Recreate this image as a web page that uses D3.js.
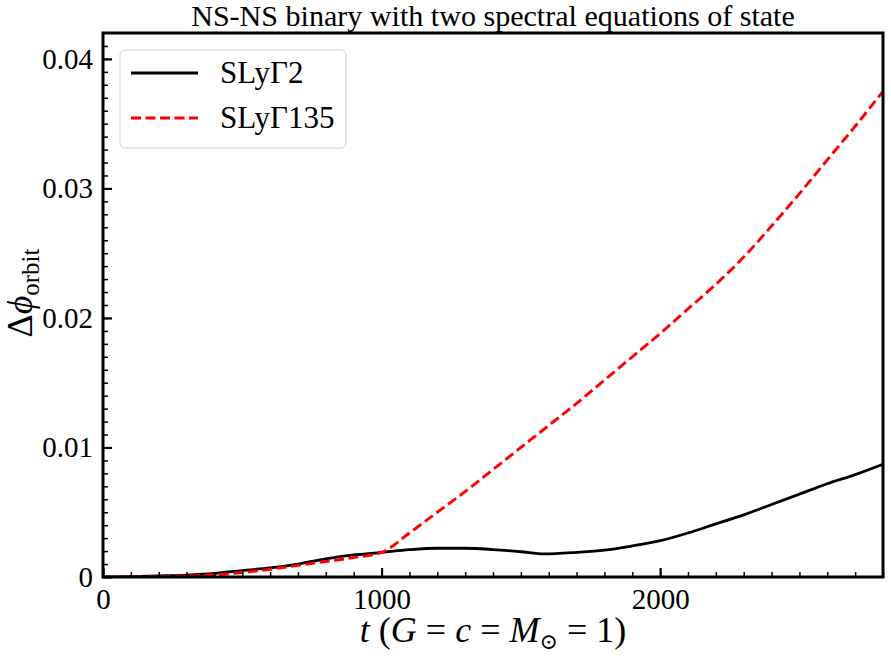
<!DOCTYPE html>
<html><head><meta charset="utf-8">
<script src="https://cdn.jsdelivr.net/npm/d3@7"></script>
<style>body{margin:0;background:#fff}svg{display:block} svg text{font-family:"Liberation Serif","DejaVu Serif",serif;}</style>
</head><body>
<svg id="c" width="891" height="660"></svg>
<script>
const title = "NS-NS binary with two spectral equations of state";
const seriesNames = ["SLyΓ2", "SLyΓ135"];
const xTicks = [0, 1000, 2000];
const yTicks = [0, 0.01, 0.02, 0.03, 0.04];
const yTickLabels = ["0", "0.01", "0.02", "0.03", "0.04"];
const tGamma2 = [0, 100, 200, 300, 400, 500, 600, 700, 800, 900, 1000, 1100, 1200, 1300, 1400, 1500, 1584, 1700, 1800, 1900, 2000, 2100, 2200, 2300, 2400, 2500, 2600, 2700, 2800];
const phiGamma2 = [0, 0.00002, 0.00008, 0.00015, 0.00028, 0.0005, 0.0007, 0.001, 0.0014, 0.0017, 0.0019, 0.00211, 0.00222, 0.00222, 0.00212, 0.00195, 0.00178, 0.0019, 0.00207, 0.0024, 0.0028, 0.0034, 0.0041, 0.0048, 0.0056, 0.0064, 0.0072, 0.0079, 0.0087];
const tGamma135 = [0, 100, 200, 300, 400, 500, 600, 700, 800, 900, 1000, 1100, 1200, 1300, 1400, 1500, 1600, 1700, 1800, 1900, 2000, 2100, 2200, 2300, 2400, 2500, 2600, 2700, 2800];
const phiGamma135 = [0, 0.00001, 0.00003, 0.00008, 0.00017, 0.00035, 0.0006, 0.0009, 0.0012, 0.0015, 0.0019, 0.0034, 0.0050, 0.0066, 0.0083, 0.0100, 0.0117, 0.0134, 0.0152, 0.0170, 0.0188, 0.0207, 0.0226, 0.0247, 0.0271, 0.0296, 0.0322, 0.0348, 0.0375];

const svg = d3.select("#c");
const M = {l:103, r:8, t:33, b:83};
const W = 891 - M.l - M.r, H = 660 - M.t - M.b;
const FONT = "'Liberation Serif', 'DejaVu Serif', serif";
const x = d3.scaleLinear().domain([0, 2800]).range([0, W]);
const y = d3.scaleLinear().domain([0, 0.042]).range([H, 0]);
const g = svg.append("g").attr("transform", `translate(${M.l},${M.t})`);

g.append("defs").append("clipPath").attr("id","clip").append("rect").attr("width",W).attr("height",H);

const line = d3.line().x(d=>x(d[0])).y(d=>y(d[1])).curve(d3.curveMonotoneX);
const d1 = tGamma2.map((t,i)=>[t, phiGamma2[i]]);
const d2 = tGamma135.map((t,i)=>[t, phiGamma135[i]]);
g.append("path").attr("clip-path","url(#clip)").attr("d", line(d1)).attr("fill","none").attr("stroke","#000").attr("stroke-width",2.8);
g.append("path").attr("clip-path","url(#clip)").attr("d", line(d2)).attr("fill","none").attr("stroke","#ff0000").attr("stroke-width",2.9).attr("stroke-dasharray","10,4.5");

const xAxisMinor = d3.axisBottom(x).tickValues(d3.range(0, 2801, 100)).tickSize(-5).tickFormat("");
const xAxisMajor = d3.axisBottom(x).tickValues(xTicks).tickSize(-9).tickFormat(d3.format("d")).tickPadding(12);
const yAxisMinor = d3.axisLeft(y).tickValues(d3.range(0, 42).map(i=>i*0.001)).tickSize(-5).tickFormat("");
const yAxisMajor = d3.axisLeft(y).tickValues(yTicks).tickSize(-9).tickFormat((d,i)=>yTickLabels[i]).tickPadding(10);

function style(sel, w){
  sel.attr("font-family", null);
  sel.select(".domain").remove();
  sel.selectAll(".tick line").attr("stroke","#000").attr("stroke-width",w);
  sel.selectAll("text").style("font-family",FONT).attr("font-size",29).attr("fill","#000");
}
g.append("g").attr("transform",`translate(0,${H})`).call(xAxisMinor).call(s=>style(s,1.5));
const xa = g.append("g").attr("transform",`translate(0,${H})`).call(xAxisMajor).call(s=>style(s,2.2));
xa.selectAll("text").attr("dy","0.7em");
g.append("g").call(yAxisMinor).call(s=>style(s,1.5));
const ya = g.append("g").call(yAxisMajor).call(s=>style(s,2.2));
ya.selectAll("text").attr("dy","0.32em");

g.append("rect").attr("width",W).attr("height",H).attr("fill","none").attr("stroke","#000").attr("stroke-width",3);

// title, sized to the reference's width
const tt = svg.append("text").attr("x", M.l + W/2).attr("y", 26).attr("text-anchor","middle")
  .style("font-family",FONT).attr("font-size",25).text(title);
const tw = tt.node().getComputedTextLength();
tt.attr("font-size", 25 * 604 / tw);

// x label
const xl = svg.append("text").attr("x", M.l + W/2).attr("y", 642).attr("text-anchor","middle")
  .style("font-family",FONT).attr("font-size",36);
xl.append("tspan").attr("font-style","italic").text("t");
xl.append("tspan").text(" (");
xl.append("tspan").attr("font-style","italic").text("G");
xl.append("tspan").text(" = ");
xl.append("tspan").attr("font-style","italic").text("c");
xl.append("tspan").text(" = ");
xl.append("tspan").attr("font-style","italic").text("M");
xl.append("tspan").attr("font-size",22).attr("dy",7).text("⊙");
xl.append("tspan").attr("dy",-7).text(" = 1)");

// y label
const yl = svg.append("text").attr("transform",`translate(32,${M.t + H/2 - 12}) rotate(-90)`).attr("text-anchor","middle")
  .style("font-family",FONT).attr("font-size",36);
yl.append("tspan").text("Δ");
yl.append("tspan").attr("font-style","italic").text("ϕ");
yl.append("tspan").attr("font-size",25).attr("dy",7).text("orbit");

// legend
const lg = svg.append("g");
lg.append("rect").attr("x",120).attr("y",50).attr("width",226).attr("height",98).attr("rx",5)
  .attr("fill","#fff").attr("fill-opacity",0.8).attr("stroke","#d0d0d0").attr("stroke-width",1);
const ly = [73, 118];
const colors = ["#000", "#ff0000"];
const dashes = [null, "10,4.5"];
seriesNames.forEach((n,i)=>{
  lg.append("line").attr("x1",131).attr("x2",198).attr("y1",ly[i]).attr("y2",ly[i])
    .attr("stroke",colors[i]).attr("stroke-width",2.9).attr("stroke-dasharray",dashes[i]);
  lg.append("text").attr("x",220).attr("y",ly[i]+10).style("font-family",FONT).attr("font-size",31).text(n);
});
</script>
</body></html>
